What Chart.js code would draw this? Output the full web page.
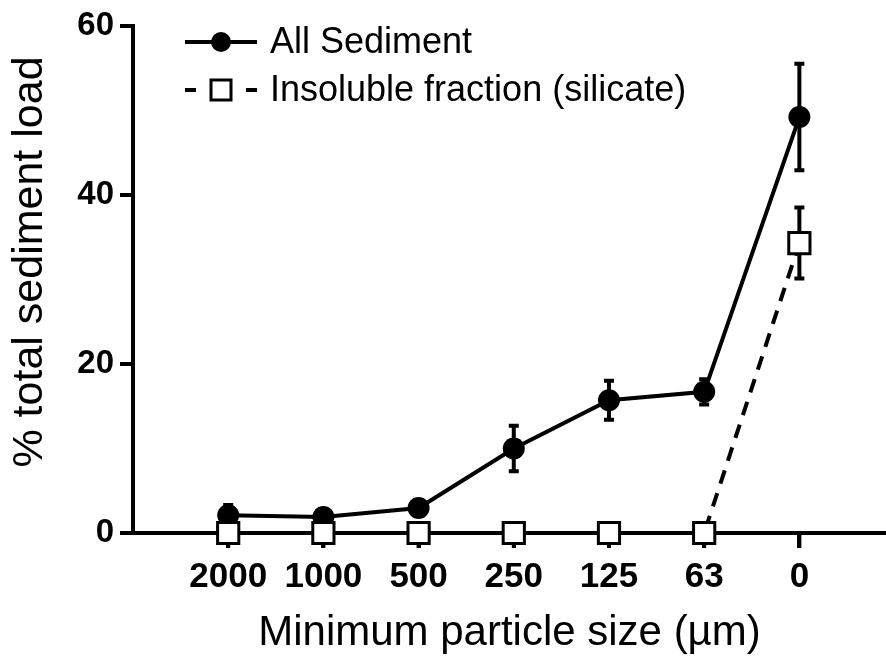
<!DOCTYPE html>
<html>
<head>
<meta charset="utf-8">
<script src="https://cdn.jsdelivr.net/npm/chart.js@4/dist/chart.umd.min.js"></script>
<style>
  html, body { margin: 0; padding: 0; background: #fff; overflow: hidden; }
  #wrap { width: 886px; height: 659px; position: relative; }
  canvas { display: block; }
</style>
</head>
<body>
<div id="wrap"><canvas id="sedChart"></canvas></div>
<script>
const categories = ["2000", "1000", "500", "250", "125", "63", "0"];
const allSediment = [2.1, 1.9, 2.95, 10.0, 15.7, 16.7, 49.2];
const allSedimentErr = [1.2, 0.6, 0.5, 2.7, 2.3, 1.5, 6.3];
const silicate = [0, 0, 0, 0, 0, 0, 34.3];
const silicateErr = [0, 0, 0, 0, 0, 0, 4.2];
const yTicks = [0, 20, 40, 60];
const yTitle = "% total sediment load";
const xTitle = "Minimum particle size (\u00b5m)";
const legendLabels = ["All Sediment", "Insoluble fraction (silicate)"];

const FONT = "'Liberation Sans', Arial, Helvetica, sans-serif";

function toPoints(values) {
  return values.map((v, i) => ({ x: i, y: v }));
}

// error bars and x tick marks, drawn with the chart's own scales
const errorBars = {
  id: "errorBars",
  beforeDatasetsDraw(chart) {
    const ctx = chart.ctx;
    const xs = chart.scales.x;
    const ys = chart.scales.y;
    const sets = [
      [allSediment, allSedimentErr],
      [silicate, silicateErr],
    ];
    ctx.save();
    ctx.strokeStyle = "#000";
    ctx.lineWidth = 4;

    const base = chart.chartArea.bottom;
    ctx.beginPath();
    categories.forEach((c, i) => {
      const px = xs.getPixelForValue(i);
      ctx.moveTo(px, base);
      ctx.lineTo(px, base + 15);
    });
    ctx.stroke();

    sets.forEach(([vals, errs]) => {
      vals.forEach((v, i) => {
        if (!errs[i]) return;
        const px = xs.getPixelForValue(i);
        const top = ys.getPixelForValue(v + errs[i]);
        const bot = ys.getPixelForValue(v - errs[i]);
        ctx.beginPath();
        ctx.moveTo(px, top);
        ctx.lineTo(px, bot);
        ctx.moveTo(px - 5, top);
        ctx.lineTo(px + 5, top);
        ctx.moveTo(px - 5, bot);
        ctx.lineTo(px + 5, bot);
        ctx.stroke();
      });
    });
    ctx.restore();
  },
};

// legend in the top-left corner and the rotated y title
const extras = {
  id: "extras",
  afterDraw(chart) {
    const ctx = chart.ctx;
    ctx.save();
    ctx.fillStyle = "#000";
    ctx.strokeStyle = "#000";

    // row 1: solid line with filled circle
    ctx.lineWidth = 4;
    ctx.beginPath();
    ctx.moveTo(185, 42);
    ctx.lineTo(257, 42);
    ctx.stroke();
    ctx.beginPath();
    ctx.arc(221, 42, 10, 0, Math.PI * 2);
    ctx.fill();

    // row 2: dashes with open square
    ctx.beginPath();
    ctx.moveTo(185, 90);
    ctx.lineTo(196, 90);
    ctx.moveTo(246, 90);
    ctx.lineTo(257, 90);
    ctx.stroke();
    ctx.lineWidth = 3;
    ctx.fillStyle = "#fff";
    ctx.fillRect(211, 80, 20, 20);
    ctx.strokeRect(211, 80, 20, 20);

    ctx.fillStyle = "#000";
    ctx.font = "36px " + FONT;
    ctx.textBaseline = "middle";
    ctx.textAlign = "left";
    ctx.fillText(legendLabels[0], 270, 43);
    ctx.fillText(legendLabels[1], 270, 91);

    ctx.translate(30, 262);
    ctx.rotate(-Math.PI / 2);
    ctx.textAlign = "center";
    ctx.font = "43px " + FONT;
    ctx.fillText(yTitle, 0, 0);
    ctx.restore();
  },
};

const ctx = document.getElementById("sedChart").getContext("2d");
new Chart(ctx, {
  type: "line",
  data: {
    datasets: [
      {
        label: legendLabels[1],
        data: toPoints(silicate),
        borderColor: "#000",
        borderWidth: 4,
        borderDash: [14, 10],
        pointStyle: "rect",
        pointRadius: 15,
        pointBorderWidth: 3,
        pointBackgroundColor: "#fff",
        pointBorderColor: "#000",
        fill: false,
        tension: 0,
        clip: false,
        order: 0,
      },
      {
        label: legendLabels[0],
        data: toPoints(allSediment),
        borderColor: "#000",
        borderWidth: 4,
        pointStyle: "circle",
        pointRadius: 11,
        pointBorderWidth: 0,
        pointBackgroundColor: "#000",
        fill: false,
        tension: 0,
        clip: false,
        order: 1,
      },
    ],
  },
  options: {
    responsive: true,
    maintainAspectRatio: false,
    animation: false,
    layout: {
      autoPadding: false,
      padding: { top: 25, right: 0, left: 0, bottom: 0 },
    },
    plugins: {
      legend: { display: false },
      tooltip: { enabled: false },
    },
    scales: {
      x: {
        type: "linear",
        min: -1,
        max: 6.91,
        afterBuildTicks(scale) {
          scale.ticks = categories.map((c, i) => ({ value: i }));
        },
        afterFit(scale) {
          scale.height = 126;
          scale.paddingLeft = 0;
          scale.paddingRight = 0;
        },
        ticks: {
          autoSkip: false,
          maxRotation: 0,
          padding: 8,
          color: "#000",
          font: { family: FONT, size: 35, weight: "bold" },
          callback: (value) => categories[value] ?? "",
        },
        grid: {
          display: true,
          drawOnChartArea: false,
          drawTicks: true,
          tickLength: 15,
          lineWidth: 4,
          tickWidth: 4,
          color: "#000",
          tickColor: "#000",
        },
        border: { display: true, color: "#000", width: 4 },
        title: {
          display: true,
          text: xTitle,
          color: "#000",
          font: { family: FONT, size: 42 },
          padding: { top: 2, bottom: 0 },
        },
      },
      y: {
        min: 0,
        max: 60,
        afterBuildTicks(scale) {
          scale.ticks = yTicks.map((v) => ({ value: v }));
        },
        afterFit(scale) {
          scale.width = 133;
        },
        ticks: {
          padding: 6,
          color: "#000",
          font: { family: FONT, size: 33, weight: "bold" },
        },
        grid: {
          drawOnChartArea: false,
          drawTicks: true,
          tickLength: 13,
          lineWidth: 4,
          tickWidth: 4,
          color: "#000",
          tickColor: "#000",
        },
        border: { display: true, color: "#000", width: 4 },
      },
    },
  },
  plugins: [errorBars, extras],
});
</script>
</body>
</html>
